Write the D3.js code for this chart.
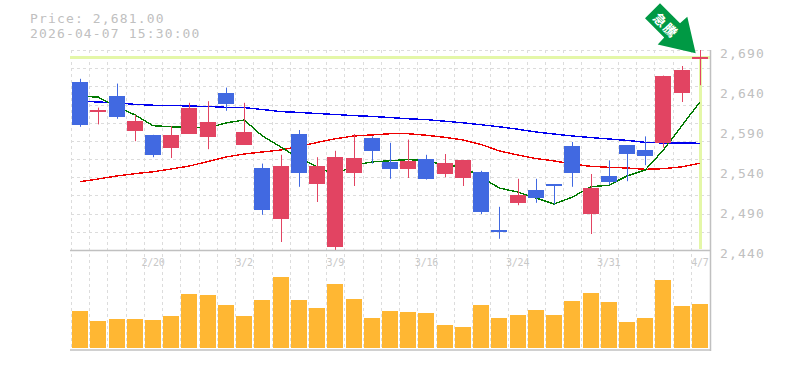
<!DOCTYPE html>
<html>
<head>
<meta charset="utf-8">
<script src="https://cdn.jsdelivr.net/npm/d3@7"></script>
<style>
body { margin: 0; background: #fff; }
svg { display: block; }
text { font-family: "DejaVu Sans Mono", monospace; fill: #c0c0c0; }
</style>
</head>
<body>
<div id="chart"></div>
<script>
// ローソク足 (35本)
const open  = [2650,2612,2632,2589,2584,2568,2586,2581,2636,2572,2542,2479,2585,2522,2444,2536,2580,2550,2541,2554,2535,2529,2538,2465,2499,2515,2522,2570,2486,2532,2571,2565,2574,2636,2679];
const high  = [2654,2618,2648,2609,2584,2595,2624,2626,2643,2624,2548,2559,2590,2556,2564,2585,2582,2574,2578,2559,2560,2552,2539,2494,2529,2529,2522,2575,2535,2552,2571,2582,2658,2670,2690];
const low   = [2594,2597,2604,2576,2556,2555,2585,2566,2614,2572,2484,2450,2519,2500,2439,2520,2548,2529,2530,2528,2531,2520,2485,2454,2496,2499,2497,2519,2460,2522,2526,2546,2568,2625,2646];
const close = [2596,2615,2606,2601,2559,2584,2618,2600,2622,2588,2489,2545,2536,2545,2556,2555,2564,2541,2551,2529,2549,2552,2488,2463,2509,2505,2520,2536,2518,2525,2560,2558,2658,2665,2681];

// 移動平均線
const maShort = [2632.5,2631,2619,2609,2595.4,2594,2594,2592.5,2598.8,2602.5,2582.5,2568.8,2555,2544,2534,2546,2550,2551.6,2553,2551.6,2546,2544,2531,2517.5,2512.5,2505,2497.5,2506,2519,2521,2532.5,2540,2565,2595,2625];
const maMid   = [2525.4,2528.8,2532.5,2535.4,2537.8,2541.3,2545,2550.6,2556.3,2560,2562.5,2565,2569.4,2574.4,2579,2582.5,2583.8,2585.3,2585.3,2583.4,2580.9,2577.5,2571.9,2563.8,2558.8,2554.4,2551.3,2547.5,2544.6,2543.4,2542.5,2540.9,2541.6,2544,2548.4];
const maLong  = [2626,2625,2624,2622,2621,2620.6,2620,2619.4,2618.4,2618,2615.6,2613,2612,2610.6,2609.4,2608,2607,2605.6,2604,2603,2601,2599,2596.6,2594,2591,2587.5,2585,2582.5,2580.6,2578.8,2577,2574.6,2573.8,2573.8,2573.4];

// 出来高
const volume = [370,270,290,290,280,320,540,530,430,320,480,710,480,400,640,490,300,370,360,350,230,210,430,300,330,380,330,470,550,460,260,300,680,420,440];

// 軸ラベル
const dateLabels = ["2/20","3/2","3/9","3/16","3/24","3/31","4/7"];
const dateIndex  = [4,9,14,19,24,29,34];
const priceTicks = [2440,2490,2540,2590,2640,2690];
const lastPrice = 2681;

const width = 785, height = 370;
const svg = d3.select("#chart").append("svg")
    .attr("width", width)
    .attr("height", height);

// スケール
const idx = d3.range(open.length);
const x = d3.scaleBand().domain(idx).range([71, 709]);
const y = d3.scaleLinear().domain([2440, 2690]).range([250, 50]);
const yVol = d3.scaleLinear().domain([0, 800]).range([348, 268]);
const cx = function(i) { return x(i) + x.bandwidth() / 2; };
const barW = 16;

// グリッド
const gridY = d3.range(12).map(function(i) { return 2440 + i * 250 / 11; });
svg.append("g").selectAll("line")
  .data(gridY)
  .enter().append("line")
    .attr("x1", 71).attr("x2", 710)
    .attr("y1", function(d) { return Math.round(y(d)) + 0.5; })
    .attr("y2", function(d) { return Math.round(y(d)) + 0.5; })
    .attr("stroke", "#dcdcdc")
    .attr("stroke-dasharray", "3,3");
svg.append("g").selectAll("line")
  .data(idx)
  .enter().append("line")
    .attr("x1", function(d) { return Math.round(x(d)) + 0.5; })
    .attr("x2", function(d) { return Math.round(x(d)) + 0.5; })
    .attr("y1", 50).attr("y2", 350)
    .attr("stroke", "#dcdcdc")
    .attr("stroke-dasharray", "3,3");

// 現在値のライン
const lastY = Math.round(y(lastPrice)) + 0.5;
svg.append("line")
    .attr("x1", 70).attr("x2", 710)
    .attr("y1", lastY).attr("y2", lastY)
    .attr("stroke", "#e4f7a8").attr("stroke-width", 3);
svg.append("line")
    .attr("x1", Math.round(cx(34)) + 0.5).attr("x2", Math.round(cx(34)) + 0.5)
    .attr("y1", lastY).attr("y2", 249)
    .attr("stroke", "#e4f7a8").attr("stroke-width", 3);

// 移動平均線
const line = d3.line()
    .x(function(d, i) { return cx(i); })
    .y(function(d) { return y(d); });
[[maLong, "#0000ee"], [maMid, "#ee0000"], [maShort, "#007a00"]].forEach(function(s) {
  svg.append("path")
    .attr("d", line(s[0]))
    .attr("fill", "none")
    .attr("stroke", s[1])
    .attr("stroke-width", 1.4)
    .attr("shape-rendering", "crispEdges");
});

// ローソク足
const colorOf = function(i) { return close[i] >= open[i] ? "#e24462" : "#4169e1"; };
svg.append("g").selectAll("line")
  .data(idx)
  .enter().append("line")
    .attr("x1", function(i) { return Math.round(cx(i)) + 0.5; })
    .attr("x2", function(i) { return Math.round(cx(i)) + 0.5; })
    .attr("y1", function(i) { return y(high[i]); })
    .attr("y2", function(i) { return y(low[i]); })
    .attr("stroke", colorOf)
    .attr("stroke-width", 1);
svg.append("g").selectAll("rect")
  .data(idx)
  .enter().append("rect")
    .attr("x", function(i) { return Math.round(cx(i) - barW / 2); })
    .attr("y", function(i) { return Math.round(y(Math.max(open[i], close[i]))); })
    .attr("width", barW)
    .attr("height", function(i) { return Math.max(2, Math.round(Math.abs(y(open[i]) - y(close[i])))); })
    .attr("fill", colorOf);

// 出来高
svg.append("g").selectAll("rect")
  .data(idx)
  .enter().append("rect")
    .attr("x", function(i) { return Math.round(cx(i) - barW / 2); })
    .attr("y", function(i) { return yVol(volume[i]); })
    .attr("width", barW)
    .attr("height", function(i) { return yVol(0) - yVol(volume[i]); })
    .attr("fill", "#ffb733");

// 枠線
const frame = [[70, 250.5, 710, 250.5], [70, 350, 711, 350], [710.5, 50, 710.5, 351]];
svg.append("g").selectAll("line")
  .data(frame)
  .enter().append("line")
    .attr("x1", function(d) { return d[0]; })
    .attr("y1", function(d) { return d[1]; })
    .attr("x2", function(d) { return d[2]; })
    .attr("y2", function(d) { return d[3]; })
    .attr("stroke", "#c0c0c0")
    .attr("stroke-width", 1.5);

// 価格軸
const yAxis = svg.append("g")
    .attr("transform", "translate(720,0)")
    .call(d3.axisRight(y).tickValues(priceTicks).tickSize(0).tickPadding(0).tickFormat(d3.format(",")));
yAxis.select(".domain").remove();
yAxis.selectAll("text")
    .attr("dy", "7.5")
    .style("font-size", "13px")
    .style("letter-spacing", "1.15px")
    .style("font-family", "'DejaVu Sans Mono', monospace")
    .style("fill", "#c0c0c0");

// 日付軸
const xAxis = svg.append("g")
    .attr("transform", "translate(0,250)")
    .call(d3.axisBottom(x).tickValues(dateIndex).tickSize(0).tickPadding(0)
      .tickFormat(function(d) { return dateLabels[dateIndex.indexOf(d)]; }));
xAxis.select(".domain").remove();
xAxis.selectAll("text")
    .attr("dy", "15.5")
    .style("font-size", "10px")
    .style("letter-spacing", "-0.2px")
    .style("font-family", "'DejaVu Sans Mono', monospace")
    .style("fill", "#c8c8c8");

// 価格と日時
svg.selectAll("text.info")
  .data(["Price: 2,681.00", "2026-04-07 15:30:00"])
  .enter().append("text")
    .attr("class", "info")
    .attr("x", 30)
    .attr("y", function(d, i) { return 23 + i * 15; })
    .style("font-size", "13px")
    .style("letter-spacing", "1.15px")
    .text(function(d) { return d; });

// 矢印
svg.append("path")
    .attr("d", "M695.7,53.3L687.3,16.7L680,23.3L660,3.3L645,18.3L664.2,37.5L657.7,44.5Z")
    .attr("fill", "#009944");
svg.append("text")
    .attr("transform", "translate(665.5,25.7) rotate(45)")
    .attr("text-anchor", "middle")
    .attr("dy", "0.35em")
    .style("font-family", "'Noto Sans CJK JP'")
    .style("font-weight", "700")
    .style("font-size", "13px")
    .style("letter-spacing", "1.5px")
    .style("fill", "#fff")
    .text("急騰");
</script>
</body>
</html>
